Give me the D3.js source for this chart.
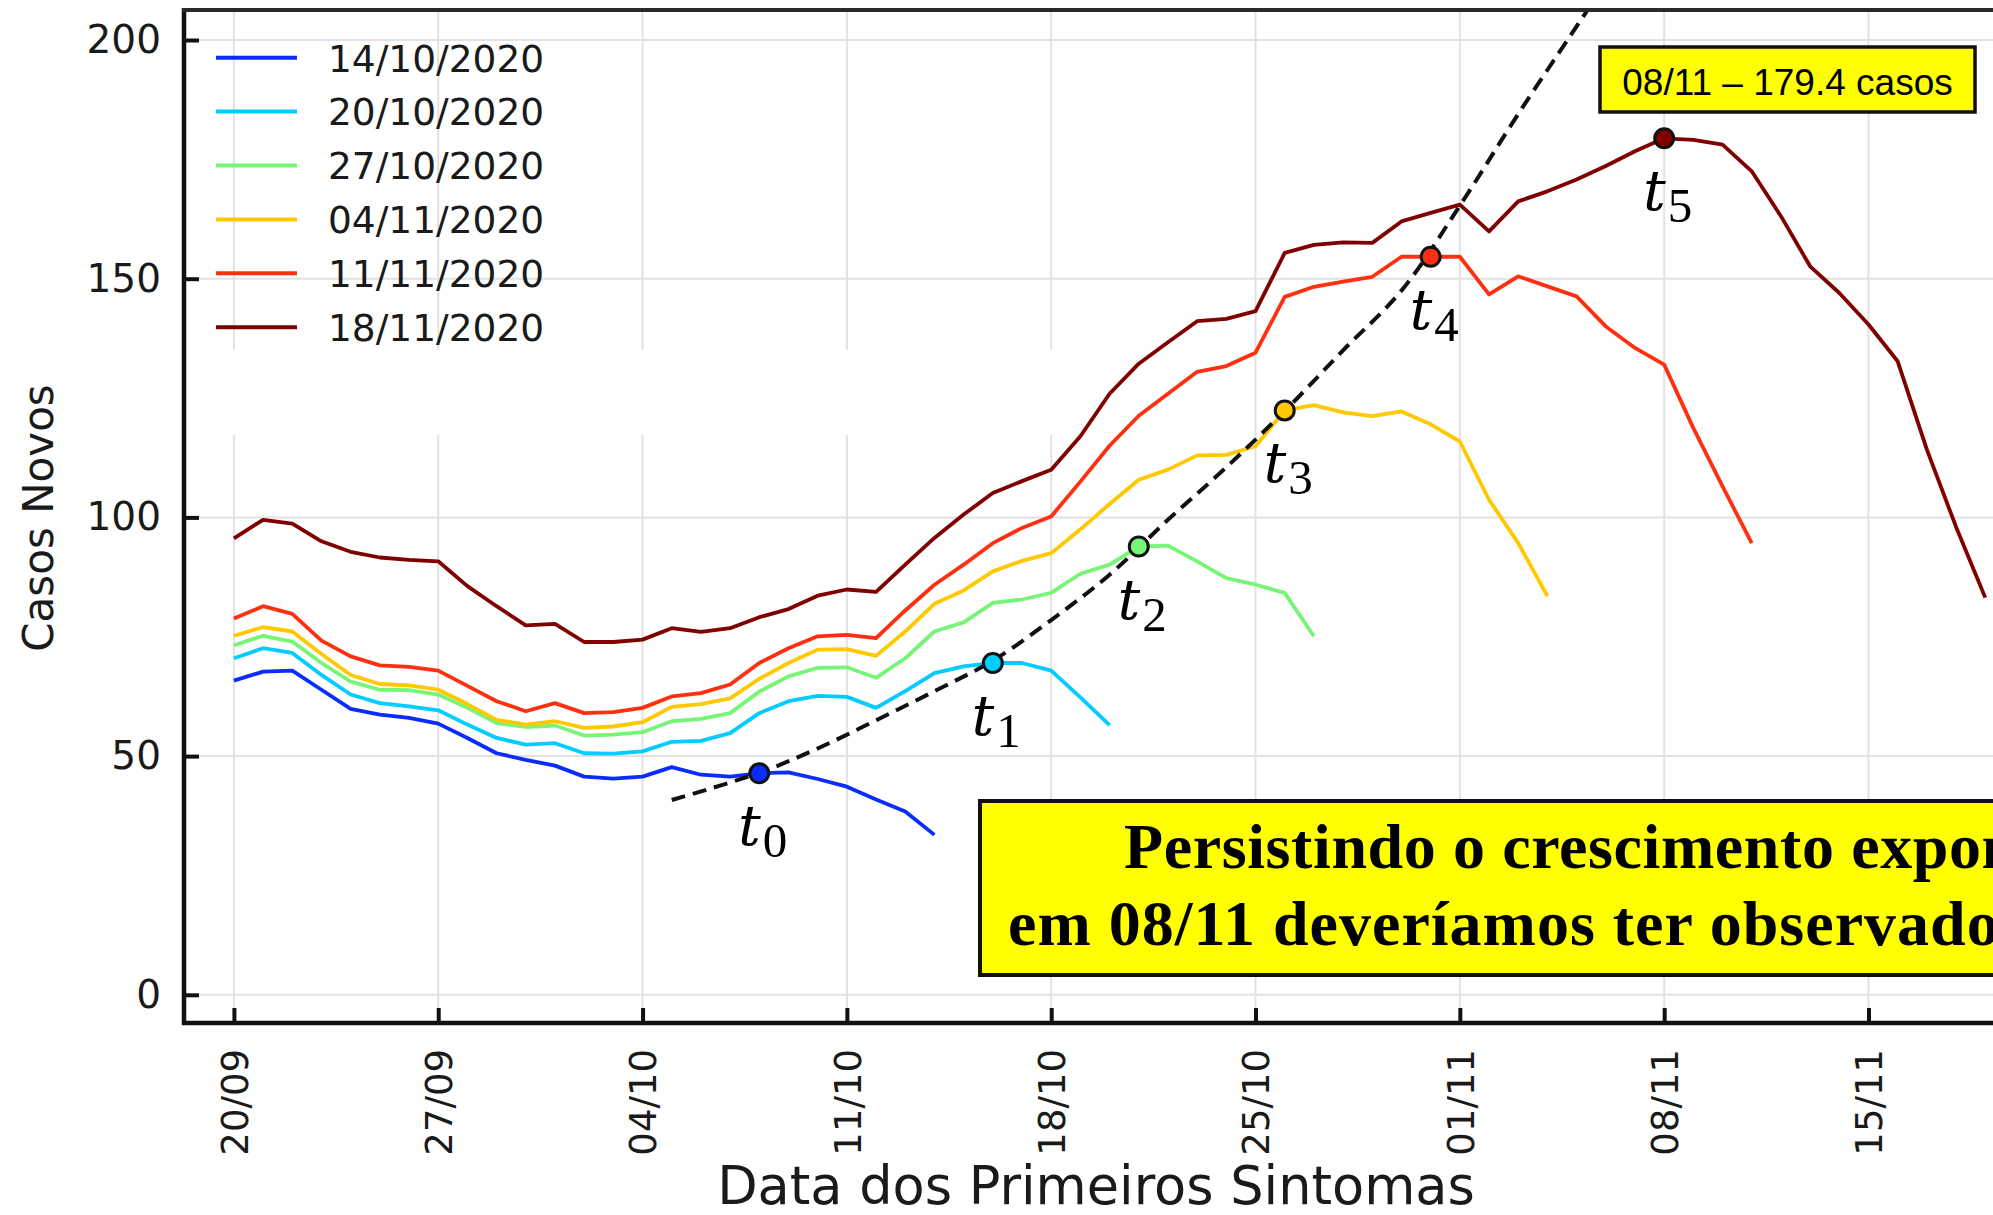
<!DOCTYPE html>
<html>
<head>
<meta charset="utf-8">
<script src="https://cdn.jsdelivr.net/npm/d3@7"></script>
<style>
  html, body { margin: 0; padding: 0; background: #fff; }
  svg { display: block; }
</style>
</head>
<body>
<script>
// ---------------- DATA ----------------
const startDate = "20/09/2020";
const seriesNames = ["14/10/2020", "20/10/2020", "27/10/2020", "04/11/2020", "11/11/2020", "18/11/2020"];
const seriesColors = ["#0b2cff", "#00ccff", "#77f577", "#ffc800", "#ff3010", "#800000"];

// daily values starting 20/09
const s1410 = [65.8, 67.7, 67.9, 63.9, 59.9, 58.7, 58.0, 56.8, 53.8, 50.6, 49.2, 48.0, 45.7, 45.3, 45.7, 47.7, 46.1, 45.7, 46.4, 46.6, 45.2, 43.6, 40.9, 38.4, 33.5];
const s2010 = [70.5, 72.6, 71.6, 67.0, 62.9, 61.1, 60.4, 59.6, 56.6, 53.8, 52.4, 52.7, 50.6, 50.5, 51.0, 53.0, 53.2, 54.8, 59.0, 61.5, 62.6, 62.4, 60.1, 63.6, 67.4, 68.8, 69.5, 69.5, 67.9, 62.3, 56.5];
const s2710 = [73.2, 75.2, 74.0, 69.5, 65.6, 63.9, 63.8, 62.9, 60.1, 56.9, 56.1, 56.4, 54.3, 54.5, 55.0, 57.3, 57.8, 59.0, 63.5, 66.7, 68.5, 68.6, 66.4, 70.5, 76.1, 78.0, 82.1, 82.8, 84.2, 88.2, 90.1, 93.9, 94.1, 90.8, 87.3, 85.9, 84.2, 75.1];
const s0411 = [75.2, 77.0, 76.1, 71.4, 67.0, 65.1, 64.8, 63.9, 60.9, 57.6, 56.6, 57.3, 55.9, 56.2, 57.1, 60.3, 60.9, 62.1, 66.2, 69.5, 72.3, 72.4, 71.0, 76.1, 81.9, 84.7, 88.7, 90.9, 92.5, 97.5, 102.8, 107.9, 110.0, 113.0, 113.1, 114.9, 122.4, 123.5, 122.0, 121.2, 122.2, 119.5, 115.9, 103.7, 94.6, 83.5];
const s1111 = [78.8, 81.4, 79.8, 74.2, 70.9, 69.0, 68.7, 67.9, 64.7, 61.5, 59.4, 61.1, 59.0, 59.2, 60.1, 62.5, 63.2, 65.0, 69.5, 72.6, 75.1, 75.4, 74.7, 80.5, 85.9, 90.1, 94.6, 97.8, 100.2, 107.5, 115.0, 121.3, 125.9, 130.5, 131.7, 134.5, 146.2, 148.3, 149.4, 150.4, 154.6, 154.6, 154.6, 146.7, 150.5, 148.4, 146.3, 140.0, 135.5, 132.0, 118.7, 106.5, 94.6];
const s1811 = [95.6, 99.5, 98.7, 95.0, 92.8, 91.6, 91.1, 90.8, 85.6, 81.4, 77.4, 77.7, 73.9, 73.9, 74.4, 76.8, 76.0, 76.8, 79.1, 80.8, 83.6, 84.9, 84.4, 90.1, 95.7, 100.6, 105.1, 107.6, 110.0, 117.0, 125.9, 132.2, 136.7, 141.1, 141.6, 143.2, 155.4, 157.1, 157.6, 157.5, 162.0, 163.8, 165.5, 159.9, 166.2, 168.3, 170.8, 173.6, 176.7, 179.4, 179.1, 178.1, 172.5, 163.1, 152.6, 147.0, 140.4, 132.7, 114.2, 98.0, 83.2];

// t_k markers (one per series)
const markerDates = ["08/10", "16/10", "21/10", "26/10", "31/10", "08/11"];
const markerLabels = ["0", "1", "2", "3", "4", "5"];

// dashed exponential trend (days after 20/09, value)
const trendDays = [15, 18, 20, 22, 24, 26, 28, 30, 32, 34, 36, 38, 40, 42, 44, 46.4];
const trendValues = [40.8, 46.5, 51.6, 57.5, 63.6, 70.0, 78.5, 88.0, 99.5, 110.5, 122.3, 135.0, 147.5, 165.3, 184.5, 206.5];

const xTickLabels = ["20/09", "27/09", "04/10", "11/10", "18/10", "25/10", "01/11", "08/11", "15/11"];
const yTicks = [0, 50, 100, 150, 200];

const noteLine1 = "Persistindo o crescimento exponencial";
const noteLine2 = "em 08/11 deveríamos ter observado";

// ---------------- CHART ----------------
const W = 1993, H = 1215;
const M = { left: 184, top: 10, bottom: 1023, right: W };
const parse = d3.utcParse("%d/%m/%Y");
const t0 = parse(startDate);
const series = [s1410, s2010, s2710, s0411, s1111, s1811];

const x = d3.scaleUtc().domain([t0, d3.utcDay.offset(t0, 56)]).range([233.9, 1868.5]);
const y = d3.scaleLinear().domain([0, 200]).range([994.8, 40]);
const dayDate = k => new Date(t0.getTime() + k * 864e5);

const svg = d3.select("body").append("svg")
  .attr("width", W).attr("height", H).attr("viewBox", `0 0 ${W} ${H}`);
svg.append("rect").attr("width", W).attr("height", H).attr("fill", "#fff");

const defs = svg.append("defs");
defs.append("clipPath").attr("id", "plotclip")
  .append("rect").attr("x", M.left).attr("y", M.top)
  .attr("width", W - M.left).attr("height", M.bottom - M.top);
defs.append("clipPath").attr("id", "pageclip")
  .append("rect").attr("x", 0).attr("y", 0).attr("width", W).attr("height", H);

// grid
const xTickDates = xTickLabels.map(s => parse(s + "/2020"));
const grid = svg.append("g").attr("stroke", "#e2e2e2").attr("stroke-width", 2);
grid.selectAll("line.v").data(xTickDates).join("line").attr("class", "v")
  .attr("x1", d => x(d)).attr("x2", d => x(d)).attr("y1", M.top).attr("y2", M.bottom);
grid.selectAll("line.h").data(yTicks).join("line").attr("class", "h")
  .attr("x1", M.left).attr("x2", W).attr("y1", d => y(d)).attr("y2", d => y(d));
// blank band in the grid (as in the original image)
svg.append("rect").attr("x", M.left + 3).attr("y", 350).attr("width", 1150 - M.left).attr("height", 85).attr("fill", "#fff");

// series lines
const plot = svg.append("g").attr("clip-path", "url(#plotclip)");
const line = d3.line().x((d, i) => x(d3.utcDay.offset(t0, i))).y(d => y(d));
series.forEach((s, i) => {
  plot.append("path").datum(s).attr("d", line)
    .attr("fill", "none").attr("stroke", seriesColors[i]).attr("stroke-width", 3.8)
    .attr("stroke-linejoin", "round");
});

// dashed trend
const trendLine = d3.line().x((d, i) => x(dayDate(trendDays[i]))).y(d => y(d)).curve(d3.curveCatmullRom);
plot.append("path").datum(trendValues).attr("d", trendLine)
  .attr("fill", "none").attr("stroke", "#111").attr("stroke-width", 4)
  .attr("stroke-dasharray", "14 8");

// markers and t labels
const markers = markerDates.map((m, k) => {
  const dt = parse(m + "/2020");
  const idx = d3.utcDay.count(t0, dt);
  return { dt, v: series[k][idx], k };
});
plot.selectAll("circle.mk").data(markers).join("circle").attr("class", "mk")
  .attr("cx", d => x(d.dt)).attr("cy", d => y(d.v)).attr("r", 9.5)
  .attr("fill", d => seriesColors[d.k]).attr("stroke", "#111").attr("stroke-width", 3);

markers.forEach(d => {
  const tx = svg.append("text").attr("x", x(d.dt) - 21).attr("y", y(d.v) + 72)
    .attr("font-family", "DejaVu Serif").attr("font-style", "italic")
    .attr("font-size", 56).attr("fill", "#000");
  tx.append("tspan").text("t");
  tx.append("tspan").attr("font-family", "Liberation Serif").attr("font-style", "normal")
    .attr("font-size", 49).attr("dx", 2).attr("dy", 12).text(markerLabels[d.k]);
});

// axes
const yAxis = d3.axisLeft(y).tickValues(yTicks).tickSizeInner(-15).tickSizeOuter(0).tickPadding(23);
svg.append("g").attr("transform", `translate(${M.left},0)`).call(yAxis)
  .attr("font-family", "DejaVu Sans").attr("font-size", 39)
  .call(g => g.select(".domain").remove())
  .call(g => g.selectAll(".tick line").attr("stroke", "#111").attr("stroke-width", 4))
  .call(g => g.selectAll(".tick text").attr("fill", "#1a1a1a"));

const xAxis = d3.axisBottom(x).tickValues(xTickDates).tickFormat(d3.utcFormat("%d/%m"))
  .tickSizeInner(-15).tickSizeOuter(0);
svg.append("g").attr("transform", `translate(0,${M.bottom})`).call(xAxis)
  .attr("font-family", "DejaVu Sans").attr("font-size", 37)
  .call(g => g.select(".domain").remove())
  .call(g => g.selectAll(".tick line").attr("stroke", "#111").attr("stroke-width", 4))
  .call(g => g.selectAll(".tick text").attr("fill", "#1a1a1a")
    .attr("transform", "rotate(-90)").attr("x", -26).attr("y", 0).attr("dy", "0.36em")
    .style("text-anchor", "end"));

// frame
const frame = svg.append("g").attr("stroke", "#111").attr("fill", "none");
frame.append("line").attr("x1", M.left).attr("x2", M.left).attr("y1", M.top - 2).attr("y2", M.bottom + 2).attr("stroke-width", 4.5);
frame.append("line").attr("x1", M.left - 2).attr("x2", W).attr("y1", M.bottom).attr("y2", M.bottom).attr("stroke-width", 4.5);
frame.append("line").attr("x1", M.left - 2).attr("x2", W).attr("y1", M.top).attr("y2", M.top).attr("stroke-width", 4).attr("stroke", "#2a2a2a");

// axis titles
svg.append("text").attr("transform", "translate(53,518) rotate(-90)")
  .attr("text-anchor", "middle").attr("font-family", "DejaVu Sans").attr("font-size", 42)
  .attr("fill", "#1a1a1a").text("Casos Novos");
svg.append("text").attr("x", 1096).attr("y", 1204)
  .attr("text-anchor", "middle").attr("font-family", "DejaVu Sans").attr("font-size", 52.5)
  .attr("fill", "#1a1a1a").text("Data dos Primeiros Sintomas");

// legend
const leg = svg.append("g");
seriesNames.forEach((n, i) => {
  const yy = 57.7 + i * 53.9;
  leg.append("line").attr("x1", 216).attr("x2", 297).attr("y1", yy).attr("y2", yy)
    .attr("stroke", seriesColors[i]).attr("stroke-width", 4);
  leg.append("text").attr("x", 328).attr("y", yy).attr("dy", "0.37em")
    .attr("font-family", "DejaVu Sans").attr("font-size", 37.5).attr("fill", "#1a1a1a").text(n);
});

// peak annotation box
const peak = markers[5];
svg.append("rect").attr("x", 1600).attr("y", 47).attr("width", 375).attr("height", 65)
  .attr("fill", "#ffff00").attr("stroke", "#111").attr("stroke-width", 3.5);
svg.append("text").attr("x", 1787.5).attr("y", 95).attr("text-anchor", "middle")
  .attr("font-family", "Liberation Sans").attr("font-size", 37).attr("fill", "#000")
  .text(`${markerDates[5]} – ${d3.format(".1f")(peak.v)} casos`);

// big note box (runs past the right edge, as in the original)
const note = svg.append("g").attr("clip-path", "url(#pageclip)");
note.append("rect").attr("x", 980).attr("y", 801).attr("width", 1100).attr("height", 174)
  .attr("fill", "#ffff00").attr("stroke", "#111").attr("stroke-width", 4);
note.append("text").attr("x", 1124).attr("y", 868)
  .attr("font-family", "Liberation Serif").attr("font-weight", "bold").attr("font-size", 64)
  .attr("letter-spacing", 0.6).attr("fill", "#000").text(noteLine1);
note.append("text").attr("x", 1008).attr("y", 945)
  .attr("font-family", "Liberation Serif").attr("font-weight", "bold").attr("font-size", 64)
  .attr("letter-spacing", 1).attr("fill", "#000").text(noteLine2);
</script>
</body>
</html>
